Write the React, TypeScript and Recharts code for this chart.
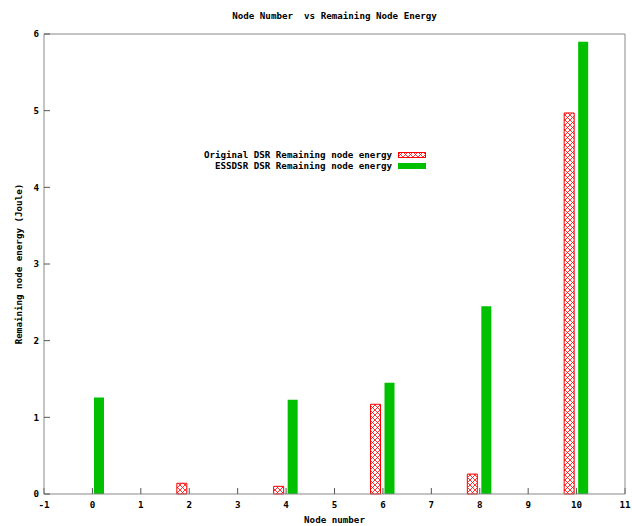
import { Bar, BarChart, Label, Legend, XAxis, YAxis } from "recharts";

const nodes = [0, 2, 4, 6, 8, 10];
const originalDsr = [0, 0.14, 0.1, 1.17, 0.26, 4.97];
const essdsr = [1.26, 0, 1.23, 1.45, 2.45, 5.9];
const xTicks = [-1, 0, 1, 2, 3, 4, 5, 6, 7, 8, 9, 10, 11];
const yTicks = [0, 1, 2, 3, 4, 5, 6];
const seriesOrder = ["original", "essdsr"];

const data = nodes.map((node, i) => ({
  node,
  original: originalDsr[i],
  essdsr: essdsr[i],
}));

const FONT = "'DejaVu Sans Mono', monospace";
const RED = "#ff0000";
const GREEN = "#00c000";
const BORDER = "#888888";
const TICK = "#555555";

const tickStyle = { fill: "#000", fontSize: 9.2, fontWeight: "bold", fontFamily: FONT };

function HatchDefs({ id }: { id: string }) {
  return (
    <defs>
      <pattern id={id} width={5} height={5} patternUnits="userSpaceOnUse">
        <rect width={5} height={5} fill="#fff" />
        <path d="M0,0 L5,5 M5,0 L0,5" stroke={RED} strokeWidth={0.8} />
      </pattern>
    </defs>
  );
}

function KeyContent({ payload }: any) {
  const items = [...(payload || [])].sort(
    (a: any, b: any) => seriesOrder.indexOf(a.dataKey) - seriesOrder.indexOf(b.dataKey)
  );
  return (
    <div style={{ fontFamily: FONT, fontSize: 9.2, fontWeight: "bold", color: "#000" }}>
      {items.map((entry: any) => (
        <div
          key={entry.value}
          style={{ display: "flex", justifyContent: "flex-end", alignItems: "center", height: 11, gap: 6 }}
        >
          <span style={{ whiteSpace: "pre" }}>{entry.value}</span>
          <svg width={28} height={6} style={{ display: "block" }}>
            {entry.dataKey === "original" ? (
              <>
                <HatchDefs id="keyHatch" />
                <rect x={0.5} y={0.5} width={27} height={5} fill="url(#keyHatch)" stroke={RED} />
              </>
            ) : (
              <rect x={0} y={0} width={28} height={6} fill={GREEN} />
            )}
          </svg>
        </div>
      ))}
    </div>
  );
}

export default function App() {
  return (
    <div style={{ position: "absolute", left: 0, top: 0, width: 632, height: 526, background: "#fff" }}>
      <div
        style={{
          position: "absolute",
          left: 44,
          width: 581,
          top: 10,
          textAlign: "center",
          whiteSpace: "pre",
          fontFamily: FONT,
          fontSize: 9.2,
          fontWeight: "bold",
        }}
      >
        {"Node Number  vs Remaining Node Energy"}
      </div>
      <BarChart
        width={632}
        height={526}
        data={data}
        margin={{ top: 33, right: 6, bottom: 0, left: 0 }}
        barSize={10}
        barGap={4}
      >
        <HatchDefs id="barHatch" />
        <XAxis
          xAxisId="main"
          dataKey="node"
          type="number"
          domain={[-1, 11]}
          ticks={xTicks}
          interval={0}
          height={32}
          tickSize={-6}
          tickMargin={13}
          tick={tickStyle}
          axisLine={{ stroke: BORDER }}
          tickLine={{ stroke: TICK }}
        >
          <Label
            content={({ viewBox }: any) => (
              <text
                x={viewBox.x + viewBox.width / 2}
                y={viewBox.y + 29}
                textAnchor="middle"
                style={tickStyle}
              >
                Node number
              </text>
            )}
          />
        </XAxis>
        <XAxis
          xAxisId="top"
          orientation="top"
          dataKey="node"
          type="number"
          domain={[-1, 11]}
          ticks={xTicks}
          interval={0}
          height={1}
          tickSize={-6}
          tick={false}
          axisLine={{ stroke: BORDER }}
          tickLine={{ stroke: TICK }}
        />
        <YAxis
          yAxisId="main"
          domain={[0, 6]}
          ticks={yTicks}
          interval={0}
          width={44}
          tickSize={-6}
          tickMargin={11}
          tick={tickStyle}
          axisLine={{ stroke: BORDER }}
          tickLine={{ stroke: TICK }}
        >
          <Label
            content={({ viewBox }: any) => {
              const cx = 18;
              const cy = viewBox.y + viewBox.height / 2;
              return (
                <text
                  x={cx}
                  y={cy}
                  textAnchor="middle"
                  dominantBaseline="central"
                  transform={`rotate(-90 ${cx} ${cy})`}
                  style={tickStyle}
                >
                  Remaining node energy (Joule)
                </text>
              );
            }}
          />
        </YAxis>
        <YAxis
          yAxisId="right"
          orientation="right"
          domain={[0, 6]}
          ticks={yTicks}
          interval={0}
          width={1}
          tickSize={-6}
          tick={false}
          axisLine={{ stroke: BORDER }}
          tickLine={{ stroke: TICK }}
        />
        <Legend
          layout="horizontal"
          align="center"
          verticalAlign="middle"
          content={<KeyContent />}
          wrapperStyle={{ position: "absolute", top: 149, left: 146, width: 280 }}
        />
        <Bar
          xAxisId="main"
          yAxisId="main"
          dataKey="original"
          name="Original DSR Remaining node energy"
          fill="url(#barHatch)"
          stroke={RED}
          strokeWidth={1}
          isAnimationActive={false}
        />
        <Bar
          xAxisId="main"
          yAxisId="main"
          dataKey="essdsr"
          name="ESSDSR DSR Remaining node energy"
          fill={GREEN}
          isAnimationActive={false}
        />
      </BarChart>
    </div>
  );
}
